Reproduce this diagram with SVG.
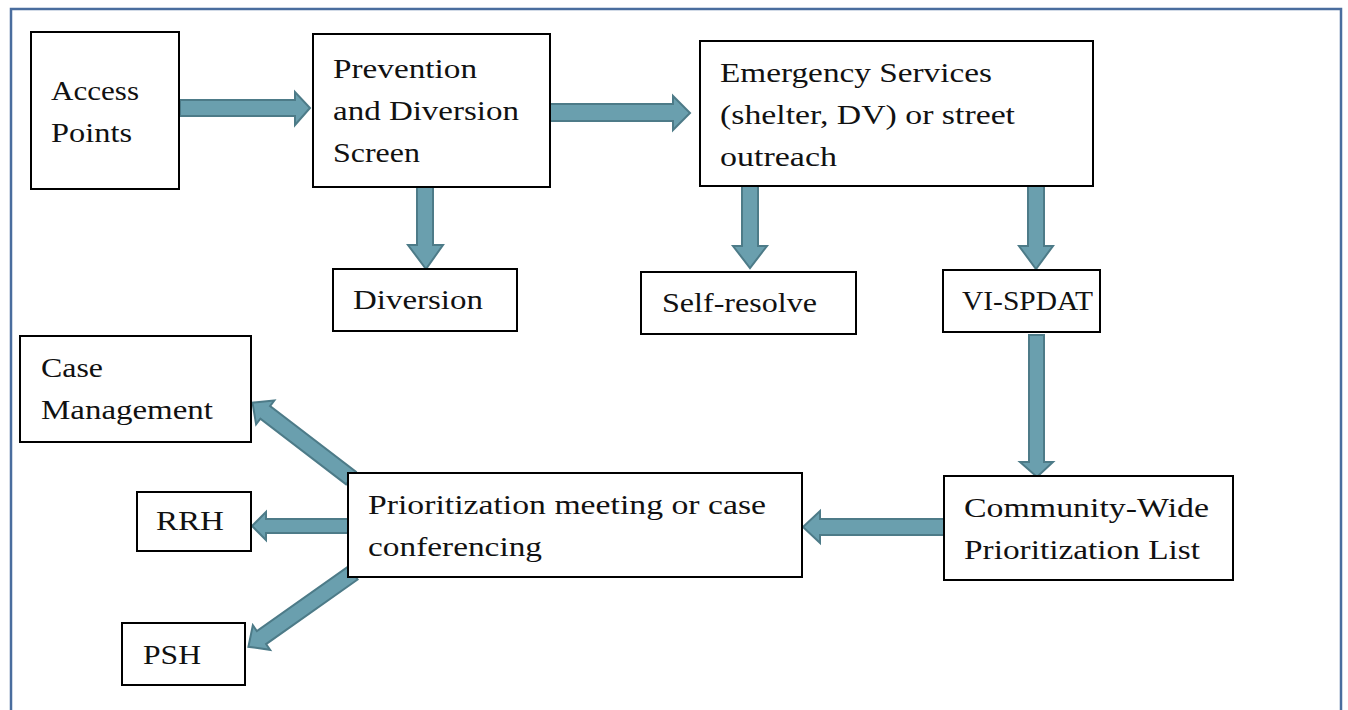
<svg xmlns="http://www.w3.org/2000/svg" width="1348" height="710" viewBox="0 0 1348 710">
<style>
.box{fill:#fff;stroke:#000;stroke-width:2}
.t{font-family:"Liberation Serif","Times New Roman",serif;font-size:28px;fill:#111}
.arr{fill:#6a9fae;stroke:#4d7b88;stroke-width:2;stroke-linejoin:miter}
</style>
<rect x="0" y="0" width="1348" height="710" fill="#fff"/>
<path d="M11,712 V9 H1341 V712" fill="none" stroke="#4a6d9e" stroke-width="2.5"/>
<g id="connectors">
<polygon class="arr" points="180,100 295,100 295,92 310,108 295,125 295,116 180,116"/>
<polygon class="arr" points="550,104 673,104 673,96 690,113 673,130 673,121 550,121"/>
<polygon class="arr" points="417,187 433,187 433,245 443,245 426,269 408,245 417,245"/>
<polygon class="arr" points="742,186 758,186 758,246 767,246 750,268 733,246 742,246"/>
<polygon class="arr" points="1028,186 1044,186 1044,246 1053,246 1036,269 1019,246 1028,246"/>
<polygon class="arr" points="1029,335 1044,335 1044,462 1053,462 1037,477 1020,462 1029,462"/>
<polygon class="arr" points="944,519 820,519 820,511 803,527 820,543 820,535 944,535"/>
<polygon class="arr" points="348,519 266,519 266,512 252,526 266,540 266,533 348,533"/>
<g transform="translate(351,478) rotate(217.4)"><polygon class="arr" points="0,-8 108,-8 108,-15 124,0 108,15 108,8 0,8"/></g>
<g transform="translate(353,573) rotate(144.8)"><polygon class="arr" points="0,-8 112,-8 112,-15 128,0 112,15 112,8 0,8"/></g>
</g>
<g id="access"><rect class="box" x="31" y="32" width="148" height="157"/><text class="t" x="51" y="100" textLength="88" lengthAdjust="spacingAndGlyphs">Access</text><text class="t" x="51" y="142" textLength="81" lengthAdjust="spacingAndGlyphs">Points</text></g>
<g id="prevention"><rect class="box" x="313" y="34" width="237" height="153"/><text class="t" x="333" y="78" textLength="144" lengthAdjust="spacingAndGlyphs">Prevention</text><text class="t" x="333" y="120" textLength="186" lengthAdjust="spacingAndGlyphs">and Diversion</text><text class="t" x="333" y="162" textLength="87" lengthAdjust="spacingAndGlyphs">Screen</text></g>
<g id="emergency"><rect class="box" x="700" y="41" width="393" height="145"/><text class="t" x="720" y="82" textLength="272" lengthAdjust="spacingAndGlyphs">Emergency Services</text><text class="t" x="720" y="124" textLength="295" lengthAdjust="spacingAndGlyphs">(shelter, DV) or street</text><text class="t" x="720" y="166" textLength="117" lengthAdjust="spacingAndGlyphs">outreach</text></g>
<g id="diversion"><rect class="box" x="333" y="269" width="184" height="62"/><text class="t" x="353" y="309" textLength="130" lengthAdjust="spacingAndGlyphs">Diversion</text></g>
<g id="selfresolve"><rect class="box" x="641" y="272" width="215" height="62"/><text class="t" x="662" y="312" textLength="155" lengthAdjust="spacingAndGlyphs">Self-resolve</text></g>
<g id="vispdat"><rect class="box" x="943" y="270" width="157" height="62"/><text class="t" x="962" y="310" textLength="131" lengthAdjust="spacingAndGlyphs">VI-SPDAT</text></g>
<g id="casemgmt"><rect class="box" x="20" y="336" width="231" height="106"/><text class="t" x="41" y="377" textLength="62" lengthAdjust="spacingAndGlyphs">Case</text><text class="t" x="41" y="419" textLength="172" lengthAdjust="spacingAndGlyphs">Management</text></g>
<g id="rrh"><rect class="box" x="137" y="492" width="114" height="59"/><text class="t" x="156" y="530" textLength="68" lengthAdjust="spacingAndGlyphs">RRH</text></g>
<g id="psh"><rect class="box" x="122" y="623" width="123" height="62"/><text class="t" x="143" y="664" textLength="58" lengthAdjust="spacingAndGlyphs">PSH</text></g>
<g id="prioritization"><rect class="box" x="348" y="473" width="454" height="104"/><text class="t" x="368" y="514" textLength="398" lengthAdjust="spacingAndGlyphs">Prioritization meeting or case</text><text class="t" x="368" y="556" textLength="174" lengthAdjust="spacingAndGlyphs">conferencing</text></g>
<g id="community"><rect class="box" x="944" y="476" width="289" height="104"/><text class="t" x="964" y="517" textLength="245" lengthAdjust="spacingAndGlyphs">Community-Wide</text><text class="t" x="964" y="559" textLength="236" lengthAdjust="spacingAndGlyphs">Prioritization List</text></g>
</svg>
